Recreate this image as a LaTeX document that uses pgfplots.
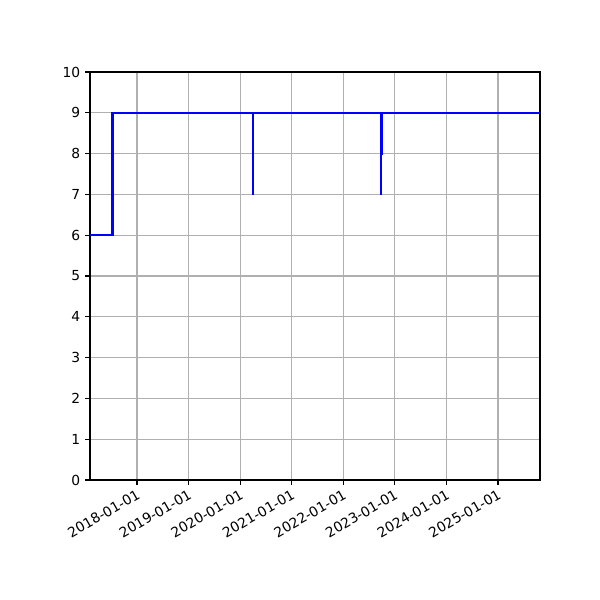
\documentclass[border=0pt]{standalone}
\usepackage{fontspec}
\setmainfont{DejaVu Sans}
\usepackage{pgfplots}
\pgfplotsset{compat=1.18}

\begin{document}
\begin{tikzpicture}
\path[use as bounding box] (0,0) rectangle (6in,6in);
\begin{axis}[
at={(0.9in,1.2in)}, anchor=south west,
width=4.5in, height=4.08in, scale only axis,
xmin=2017.089, xmax=2025.814,
ymin=0, ymax=10,
xtick={2018,2019,2020,2021,2022,2023,2024,2025},
xticklabels={2018-01-01,2019-01-01,2020-01-01,2021-01-01,2022-01-01,2023-01-01,2024-01-01,2025-01-01},
ytick={0,1,2,3,4,5,6,7,8,9,10},
xticklabel style={rotate=30, anchor=north east, inner sep=2pt},
tick label style={font=\fontsize{10}{12}\selectfont},
/pgf/number format/assume math mode=true,
tick align=outside, tick pos=left,
major tick length=3.5pt,
every tick/.style={black, line width=0.8pt},
axis line style={line width=0.8pt},
grid=major,
major grid style={color=black!31, line width=0.8pt},
]
\addplot[const plot, color=blue, line width=1.5pt] coordinates {
(2017.089,6)(2017.525,9)(2020.250,7)(2020.254,9)
(2022.735,7)(2022.739,9)(2022.745,8)(2022.749,9)
(2022.755,8)(2022.759,9)(2025.814,9)};
\end{axis}
\end{tikzpicture}
\end{document}
